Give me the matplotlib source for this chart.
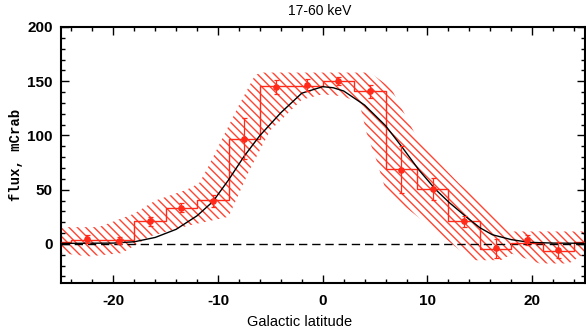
import matplotlib
matplotlib.use("Agg")
import matplotlib.pyplot as plt
import numpy as np

# ---- data ----
hist_edges = [-25, -24, -21, -18, -15, -12, -9, -6, -3, 0, 3, 6, 9, 12, 15, 18, 21, 24, 25]
hist_levels = [2, 4, 4, 20.7, 33.6, 40.4, 97.2, 146, 146, 150.4, 141.2, 69.4, 50.6, 21, -4.3, 1, -6.5, 2]

pt_x = [-22.5, -19.5, -16.5, -13.5, -10.5, -7.5, -4.5, -1.5, 1.5, 4.5, 7.5, 10.5, 13.5, 16.5, 19.5, 22.5]
pt_y = [4.6, 3, 20.7, 33.6, 40, 97, 145, 146.3, 150.2, 140.7, 68.5, 50.6, 20.7, -4, 4, -6]
pt_err = [3.5, 3.5, 4, 4.5, 5.5, 19, 6.5, 5.7, 3.7, 5.7, 21.5, 10, 5.4, 9, 4.6, 7.4]

model_x = [-25, -20, -18, -16, -14, -12, -10.5, -9, -7.5, -6, -4, -2, 0, 1, 2, 4, 6,
           7.6, 9.2, 10.8, 12.1, 13.7, 15, 16.2, 18, 19.7, 22, 25]
model_y = [0.5, 0.8, 2, 6, 13.5, 26, 39, 59, 81, 100, 121, 139, 145, 144, 141, 128, 109,
           89, 68, 50, 38, 25, 15, 8.5, 4, 1.5, 0.8, 0.6]

band_up_x = [-25, -21.4, -18, -16, -13, -11.8, -11, -8, -6.5, -6, 4.5, 6.5, 9, 11, 13, 16, 18, 25]
band_up_y = [15.5, 15.5, 28, 40, 50, 56, 70, 128, 155, 158, 158, 144, 98, 76, 56, 31, 11.5, 11.5]
band_lo_x = [-25, -22.4, -19.2, -16.5, -12.8, -9, -7, -5, -4, -2, 0, 2, 3.5, 4.2, 5.1, 6.1,
             8.3, 14.3, 17, 18.1, 20.7, 23.5, 25]
band_lo_y = [-8.5, -11.5, -8.5, 7, 17, 25, 68, 105, 114, 133, 138, 136, 130, 102, 78, 47,
             31, -15, -15, -9, -18, -18, -9]

title = "17-60 keV"
xlabel = "Galactic latitude"
ylabel = "flux, mCrab"

RED = "#ff2a1a"
W, H = 586, 336

plt.rcParams['axes.unicode_minus'] = False
plt.rcParams['hatch.linewidth'] = 1.0

fig = plt.figure(figsize=(W / 100, H / 100), dpi=100)
ax = fig.add_axes([61 / W, 53 / H, (584.5 - 61) / W, (283 - 27) / H])

# hatched band
poly_x = list(band_up_x) + list(band_lo_x[::-1])
poly_y = list(band_up_y) + list(band_lo_y[::-1])
ax.fill(poly_x, poly_y, facecolor="none", edgecolor="#ff4433", linewidth=0,
        hatch="\\\\\\\\", zorder=1)

# zero line
ax.axhline(0, color="black", lw=1.0, dashes=(6, 3.5), zorder=2)

# step histogram
ax.stairs(hist_levels, hist_edges, baseline=None, color=RED, lw=1.0, zorder=3)

# model
ax.plot(model_x, model_y, color="black", lw=1.0, zorder=4)

# data points
ax.errorbar(pt_x, pt_y, yerr=pt_err, fmt="o", color=RED, ms=3.8, elinewidth=0.9,
            capsize=1.8, capthick=0.9, zorder=5)

ax.set_xlim(-25, 25)
ax.set_ylim(-36, 200)
ax.set_xticks([-20, -10, 0, 10, 20])
ax.set_xticks(np.arange(-24, 25, 2), minor=True)
ax.set_yticks([0, 50, 100, 150, 200])
ax.set_yticks(np.arange(-30, 201, 10), minor=True)

for s in ax.spines.values():
    s.set_linewidth(1.5)
ax.tick_params(which="both", direction="in", top=True, right=True, width=1.0)
ax.tick_params(which="major", length=6)
ax.tick_params(which="minor", length=3)
ax.tick_params(axis="y", pad=6)
ax.tick_params(axis="x", pad=8)
for lab in ax.get_xticklabels() + ax.get_yticklabels():
    lab.set_fontfamily("Liberation Sans")
    lab.set_fontweight("bold")
    lab.set_fontsize(11)

fig.text(319.5 / W, 1 - 11 / H, title, ha="center", va="center",
         family="Liberation Sans", fontsize=10)
fig.text(300 / W, 1 - 322 / H, xlabel, ha="center", va="center",
         family="Liberation Sans", fontsize=10.5)
fig.text(16 / W, 1 - 155 / H, ylabel, ha="center", va="center", rotation=90,
         family="Liberation Mono", fontsize=10, fontweight="bold")

fig.savefig("out.png", dpi=100)
